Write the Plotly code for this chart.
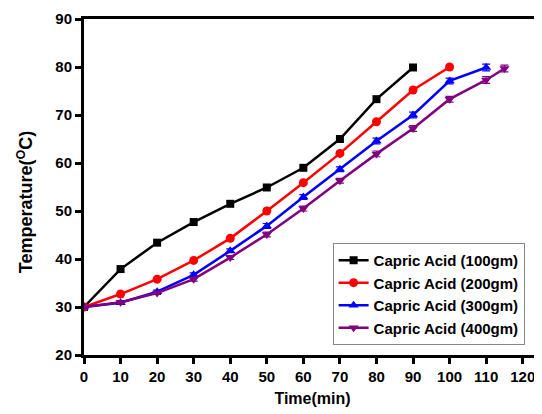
import plotly.graph_objects as go

time_100 = [0, 10, 20, 30, 40, 50, 60, 70, 80, 90]
temp_100 = [30, 37.9, 43.4, 47.7, 51.5, 54.9, 59.0, 65.0, 73.3, 79.9]

time_200 = [0, 10, 20, 30, 40, 50, 60, 70, 80, 90, 100]
temp_200 = [30, 32.7, 35.8, 39.7, 44.3, 50.0, 55.9, 62.0, 68.6, 75.2, 80.0]

time_300 = [0, 10, 20, 30, 40, 50, 60, 70, 80, 90, 100, 110]
temp_300 = [30, 30.9, 33.2, 36.7, 41.7, 46.9, 52.9, 58.7, 64.6, 70.0, 77.1, 79.9]
err_300 = [0.2, 0.3, 0.3, 0.4, 0.4, 0.5, 0.5, 0.5, 0.6, 0.6, 0.6, 0.7]

time_400 = [0, 10, 20, 30, 40, 50, 60, 70, 80, 90, 100, 110, 115]
temp_400 = [30, 31.0, 32.9, 35.8, 40.3, 45.1, 50.5, 56.3, 61.9, 67.2, 73.3, 77.3, 79.7]
err_400 = [0.2, 0.3, 0.3, 0.4, 0.4, 0.5, 0.5, 0.5, 0.6, 0.6, 0.6, 0.7, 0.7]

names = ["Capric Acid (100gm)", "Capric Acid (200gm)", "Capric Acid (300gm)", "Capric Acid (400gm)"]
colors = ["#000000", "#ff0000", "#0000ff", "#800080"]
symbols = ["square", "circle", "triangle-up", "triangle-down"]

x_ticks = list(range(0, 121, 10))
y_ticks = list(range(20, 91, 10))

fig = go.Figure()
series = [(time_100, temp_100, None), (time_200, temp_200, None),
          (time_300, temp_300, err_300), (time_400, temp_400, err_400)]
for (xs, ys, err), name, c, s in zip(series, names, colors, symbols):
    fig.add_trace(go.Scatter(
        x=xs, y=ys, name=name, mode="lines+markers",
        line=dict(color=c, width=2.5),
        marker=dict(symbol=s, size=8 if s == "square" else 9, color=c),
        error_y=dict(type="data", array=err, visible=True,
                     color=c, thickness=1.2, width=4) if err else None,
    ))

font_family = "Arial, Liberation Sans, sans-serif"
# page body has an 8px margin, so the figure is sized 8px smaller each way
fig.update_layout(
    width=534, height=406,
    margin=dict(l=76, r=1, t=11, b=59),
    plot_bgcolor="white", paper_bgcolor="white",
    font=dict(family=font_family, size=15, color="black", weight="bold"),
    showlegend=True,
    legend=dict(
        x=0.544, y=0.03, xanchor="left", yanchor="bottom",
        bgcolor="white", bordercolor="#888888", borderwidth=1,
        font=dict(family=font_family, size=15, color="black", weight="bold"),
        tracegroupgap=0,
    ),
    xaxis=dict(
        range=[0, 125], tickvals=x_ticks, ticktext=[str(v) for v in x_ticks],
        showgrid=False, zeroline=False, automargin=False,
        showline=True, linecolor="black", linewidth=3, mirror=True,
        ticks="outside", ticklen=6, tickwidth=2.5, tickcolor="black",
        title=dict(text="Time(min)", font=dict(size=16, weight="bold"), standoff=9),
        tickfont=dict(size=15, weight="bold"),
    ),
    yaxis=dict(
        range=[20, 90], tickvals=y_ticks, ticktext=[str(v) for v in y_ticks],
        showgrid=False, zeroline=False, automargin=False,
        showline=True, linecolor="black", linewidth=3, mirror=True,
        ticks="outside", ticklen=6, tickwidth=2.5, tickcolor="black",
        tickfont=dict(size=15, weight="bold"),
    ),
    annotations=[dict(
        text="Temperature(<sup>O</sup>C)", textangle=-90,
        xref="paper", yref="paper", x=-0.129, y=0.455,
        xanchor="center", yanchor="middle", showarrow=False,
        font=dict(family=font_family, size=18, color="black", weight="bold"),
    )],
)

fig.write_html("out.html")
